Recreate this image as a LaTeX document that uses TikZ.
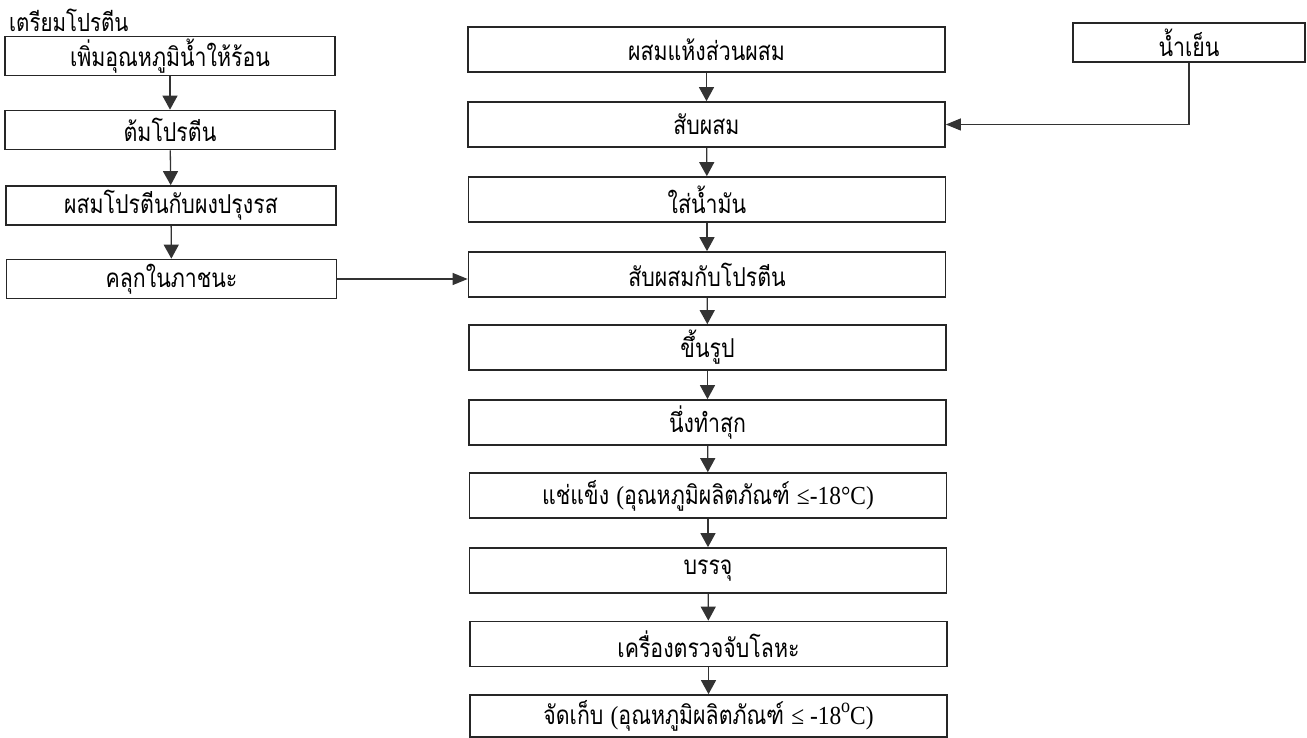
\documentclass[tikz,border=0pt]{standalone}
\usepackage{fontspec}
\setmainfont[Script=Thai,FakeStretch=0.82]{Loma}
\newfontfamily\lser[FakeStretch=0.9]{Liberation Serif}
\usetikzlibrary{arrows.meta}
\tikzset{
  box/.style={draw=black!85, line width=1.7pt, inner sep=0pt, font=\fontsize{26}{28}\selectfont},
  lbox/.style={box, minimum width=330pt, minimum height=39pt},
  mbox/.style={box, minimum width=477pt, minimum height=45pt},
  flow/.style={draw=black!80, line width=1.3pt, -{Triangle[width=15pt,length=14pt]}},
  feed/.style={draw=black!80, line width=1.1pt, -{Triangle[width=12pt,length=15pt]}}
}
\begin{document}
\begin{tikzpicture}[x=1pt,y=-1pt]
\useasboundingbox (0,0) rectangle (1307,738);
\fill[white] (0,0) rectangle (1307,738);
\node[anchor=west, inner sep=0pt, font=\fontsize{25}{27}\selectfont] (title) at (9,20) {เตรียมโปรตีน};
\node[lbox] (L1) at (170,56) {เพิ่มอุณหภูมิน้ำให้ร้อน};
\node[lbox] (L2) at (170,130) {ต้มโปรตีน};
\node[lbox] (L3) at (171,205.5) {ผสมโปรตีนกับผงปรุงรส};
\node[lbox] (L4) at (171.5,279) {คลุกในภาชนะ};
\node[mbox] (M1) at (706.5,49.5) {ผสมแห้งส่วนผสม};
\node[mbox] (M2) at (706.5,124.5) {สับผสม};
\node[mbox] (M3) at (707,199.5) {ใส่น้ำมัน};
\node[mbox] (M4) at (707,274.5) {สับผสมกับโปรตีน};
\node[mbox] (M5) at (707.5,347.5) {ขึ้นรูป};
\node[mbox] (M6) at (707.5,422.5) {นึ่งทำสุก};
\node[mbox] (M7) at (708,495.5) {แช่แข็ง {\lser(}อุณหภูมิผลิตภัณฑ์ {\lser≤-18°C)}};
\node[mbox] (M8) at (708,570.5) {บรรจุ};
\node[mbox] (M9) at (708.5,644) {เครื่องตรวจจับโลหะ};
\node[mbox, minimum height=42pt] (M10) at (708.5,716) {จัดเก็บ {\lser(}อุณหภูมิผลิตภัณฑ์ {\lser≤ -18\raisebox{0.45em}{\fontsize{20}{20}\selectfont o}C)}};
\node[box, minimum width=232pt, minimum height=39pt] (W) at (1189,42.5) {น้ำเย็น};
\draw[flow] (L1) -- (L2);
\draw[flow] (L2) -- (L3);
\draw[flow] (L3) -- (L4);
\draw[flow] (M1) -- (M2);
\draw[flow] (M2) -- (M3);
\draw[flow] (M3) -- (M4);
\draw[flow] (M4) -- (M5);
\draw[flow] (M5) -- (M6);
\draw[flow] (M6) -- (M7);
\draw[flow] (M7) -- (M8);
\draw[flow] (M8) -- (M9);
\draw[flow] (M9) -- (M10);
\draw[feed] (L4.east) -- (L4.east -| M4.west);
\draw[feed] (W.south) |- (M2.east);
\end{tikzpicture}
\end{document}
